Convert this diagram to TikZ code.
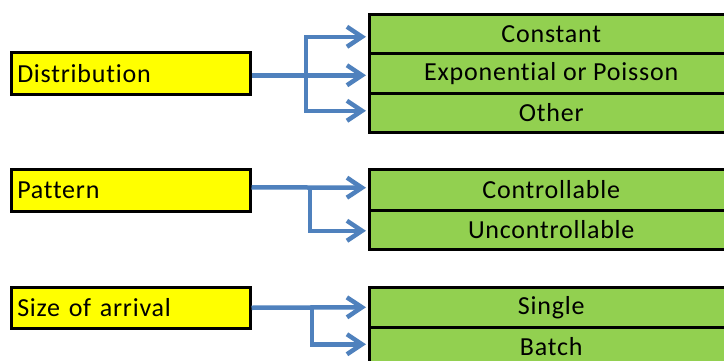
\documentclass[tikz,border=0pt]{standalone}
\usepackage{fontspec}
\setmainfont{Carlito}[Ligatures={NoCommon}, LetterSpace=3]
\usetikzlibrary{arrows.meta}
\definecolor{ylw}{RGB}{255,255,0}
\definecolor{grn}{RGB}{146,208,80}
\definecolor{arrblue}{RGB}{79,129,189}
\tikzset{
  catbox/.style={draw=black, line width=2.5pt, fill=ylw, anchor=north west,
    text width=227pt, inner xsep=6pt, inner ysep=0pt, align=left,
    font=\fontsize{26}{30}\selectfont},
  optbox/.style={draw=black, line width=2.5pt, fill=grn, anchor=north west,
    minimum width=364pt, inner sep=0pt, font=\fontsize{26}{30}\selectfont},
  arr/.style={draw=arrblue, line width=4.5pt,
    -{Straight Barb[length=15pt,width=20pt]}}
}
\begin{document}
\begin{tikzpicture}[x=1pt,y=-1pt]
\useasboundingbox (0,0) rectangle (724,360);
\clip (0,0) rectangle (724,360);
% category boxes
\node[catbox, minimum height=42pt] (dist) at (10,51) {Distribution};
\node[catbox, minimum height=42pt] (pat) at (10,168) {Pattern};
\node[catbox, minimum height=41pt] (size) at (10,286) {Size of arrival};
% option boxes
\node[optbox, minimum height=39pt] (c1) at (368,13) {Constant};
\node[optbox, minimum height=40pt] (c2) at (368,52) {Exponential or Poisson};
\node[optbox, minimum height=39pt] (c3) at (368,92) {Other};
\node[optbox, minimum height=41pt] (p1) at (368,168) {Controllable};
\node[optbox, minimum height=39pt] (p2) at (368,209) {Uncontrollable};
\node[optbox, minimum height=40pt] (s1) at (368,286) {Single};
\node[optbox, minimum height=40pt] (s2) at (368,326) {\raisebox{1pt}{Batch}};
% connectors
\coordinate (j1) at (306,74);
\coordinate (j2) at (310,186);
\coordinate (j3) at (312,306);
\draw[arr] ([yshift=-2pt]dist.east) -- ([xshift=-2pt,yshift=-2pt]c2.west);
\draw[arr] (j1) |- ([xshift=-2pt,yshift=-3pt]c1.west);
\draw[arr] (j1) |- ([xshift=-2pt,yshift=2pt]c3.west);
\draw[arr] ([yshift=3pt]pat.east) -- ([xshift=-2pt,yshift=2pt]p1.west);
\draw[arr] (j2) |- ([xshift=-2pt,yshift=-1pt]p2.west);
\draw[arr] (size.east) -- ([xshift=-2pt]s1.west);
\draw[arr] (j3) |- ([xshift=-2pt,yshift=3pt]s2.west);
\end{tikzpicture}
\end{document}
